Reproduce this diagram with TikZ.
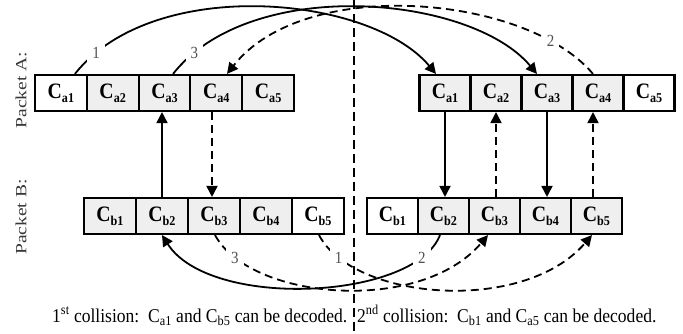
\documentclass[tikz,border=0pt]{standalone}
\usepackage{fontspec}
\usepackage{graphicx}
\setmainfont{Liberation Serif}
\usetikzlibrary{arrows.meta}
\definecolor{cellgray}{HTML}{EFEFEF}
\definecolor{lblgray}{HTML}{505050}
\definecolor{pktgray}{HTML}{383838}
\newcommand{\sq}[1]{\scalebox{0.88}[1]{#1}}
\newcommand{\capsq}[1]{\scalebox{0.9}[1]{#1}}
\newcommand{\cel}[2]{\scalebox{0.9}[1]{\fontsize{22}{22}\selectfont\bfseries C\raisebox{-4pt}{\fontsize{13.5}{13.5}\selectfont #1#2}}}
\tikzset{
  cell/.style={draw, line width=2.1pt, minimum height=36pt, inner sep=0pt, fill=cellgray},
  wcell/.style={cell, fill=white},
  conn/.style={line width=1.8pt, -{Triangle[length=11pt,width=11pt]}},
  dconn/.style={conn, dash pattern=on 8pt off 5pt},
  lbl/.style={fill=white, inner xsep=5pt, inner ysep=4pt, text=lblgray, font=\fontsize{17}{17}\selectfont},
  pkt/.style={text=pktgray, font=\fontsize{19.5}{19.5}\selectfont},
  caption/.style={font=\fontsize{19.5}{19.5}\selectfont, anchor=base west, inner sep=0pt},
  divider/.style={line width=1.1pt, dash pattern=on 9pt off 5pt}
}
\begin{document}
\begin{tikzpicture}[x=1pt,y=-1pt]
\path[use as bounding box] (0,0) rectangle (683,333);
% Packet A left
\begin{scope}[every node/.append style={minimum width=51.8pt}]
\node[wcell] (LA1) at (60.9,93) {\cel{a}{1}};
\node[cell] (LA2) at (112.7,93) {\cel{a}{2}};
\node[cell] (LA3) at (164.5,93) {\cel{a}{3}};
\node[cell] (LA4) at (216.3,93) {\cel{a}{4}};
\node[cell] (LA5) at (268.1,93) {\cel{a}{5}};
\end{scope}
% Packet B left
\begin{scope}[every node/.append style={minimum width=52pt}]
\node[cell] (LB1) at (110,216) {\cel{b}{1}};
\node[cell] (LB2) at (162,216) {\cel{b}{2}};
\node[cell] (LB3) at (214,216) {\cel{b}{3}};
\node[cell] (LB4) at (266,216) {\cel{b}{4}};
\node[wcell] (LB5) at (318,216) {\cel{b}{5}};
\end{scope}
% Packet A right
\begin{scope}[every node/.append style={minimum width=51pt}]
\node[cell] (RA1) at (445,93) {\cel{a}{1}};
\node[cell] (RA2) at (496,93) {\cel{a}{2}};
\node[cell] (RA3) at (547,93) {\cel{a}{3}};
\node[cell] (RA4) at (598,93) {\cel{a}{4}};
\node[wcell] (RA5) at (649,93) {\cel{a}{5}};
\end{scope}
% Packet B right
\begin{scope}[every node/.append style={minimum width=51pt}]
\node[wcell] (RB1) at (392.5,216) {\cel{b}{1}};
\node[cell] (RB2) at (443.5,216) {\cel{b}{2}};
\node[cell] (RB3) at (494.5,216) {\cel{b}{3}};
\node[cell] (RB4) at (545.5,216) {\cel{b}{4}};
\node[cell] (RB5) at (596.5,216) {\cel{b}{5}};
\end{scope}
% packet labels
\node[pkt, rotate=90] (PA) at (21,90) {\scalebox{1}[0.8]{Packet A:}};
\node[pkt, rotate=90] (PB) at (21,217) {\scalebox{1}[0.8]{Packet B:}};
% divider
\draw[divider] (354,0) -- (354,333);
% vertical arrows
\draw[conn] (LB2.north) -- (LB2.north |- LA3.south);
\draw[dconn] ([xshift=-2pt]LB3.north |- LA4.south) -- ([xshift=-2pt]LB3.north);
\draw[conn] (RA1.south) -- (RA1.south |- RB2.north);
\draw[dconn] (RA2.south |- RB3.north) -- (RA2.south);
\draw[conn] (RA3.south) -- (RA3.south |- RB4.north);
\draw[dconn] ([xshift=-5pt]RA4.south |- RB5.north) -- ([xshift=-5pt]RA4.south);
% top curves
\draw[conn] ([xshift=14pt]LA1.north) .. controls (153,-25) and (370,-5) .. node[lbl, pos=0.08] {\sq{1}} ([xshift=-9pt]RA1.north);
\draw[conn] ([xshift=8.5pt]LA3.north) .. controls (251,-25) and (471,-5) .. node[lbl, pos=0.08] {\sq{3}} ([xshift=-10pt]RA3.north);
\draw[dconn] ([xshift=-5pt]RA4.north) .. controls (527,-5) and (305,-25) .. node[lbl, pos=0.16] {\sq{2}} ([xshift=10.7pt]LA4.north);
% bottom curves
\draw[conn] ([xshift=-3.5pt]RB2.south) .. controls (415,300) and (210,310) .. node[lbl, pos=0.13] {\sq{2}} (LB2.south);
\draw[dconn] ([xshift=1pt]LB3.south) .. controls (250,300) and (420,315) .. node[lbl, pos=0.13] {\sq{3}} ([xshift=-6.5pt]RB3.south);
\draw[dconn] ([xshift=1pt]LB5.south) .. controls (353,300) and (523,315) .. node[lbl, pos=0.13] {\sq{1}} ([xshift=-4.5pt]RB5.south);
% captions
\node[caption] (C1) at (52,322) {\capsq{1\textsuperscript{st} collision:\ \ C\textsubscript{a1} and C\textsubscript{b5} can be decoded.}};
\node[caption] (C2) at (357,322) {\capsq{2\textsuperscript{nd} collision:\ \ C\textsubscript{b1} and C\textsubscript{a5} can be decoded.}};
\end{tikzpicture}
\end{document}
